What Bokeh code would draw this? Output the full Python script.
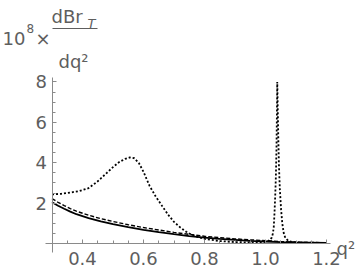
from bokeh.plotting import figure
from bokeh.models import Range1d, FixedTicker, Label
from bokeh.embed import file_html
from bokeh.resources import INLINE

# ---------------- data ----------------
q_solid = [0.30, 0.32, 0.34, 0.36, 0.38, 0.42, 0.46, 0.50, 0.55, 0.60, 0.65, 0.70,
           0.75, 0.80, 0.85, 0.90, 0.95, 1.00, 1.05, 1.10, 1.15, 1.20]
br_solid = [2.04, 1.87, 1.72, 1.58, 1.45, 1.26, 1.10, 0.96, 0.81, 0.68, 0.56, 0.46,
            0.37, 0.29, 0.23, 0.18, 0.13, 0.10, 0.07, 0.05, 0.04, 0.03]

q_dashed = [0.30, 0.32, 0.34, 0.36, 0.38, 0.42, 0.46, 0.50, 0.55, 0.60, 0.65, 0.70,
            0.75, 0.80, 0.85, 0.90, 0.95, 1.00, 1.05, 1.10, 1.15, 1.20]
br_dashed = [2.22, 2.04, 1.88, 1.73, 1.60, 1.40, 1.23, 1.09, 0.93, 0.79, 0.67, 0.55,
             0.45, 0.36, 0.29, 0.23, 0.18, 0.14, 0.10, 0.07, 0.05, 0.04]

q_dotted = [0.30, 0.33, 0.36, 0.39, 0.42, 0.45, 0.48, 0.50, 0.52, 0.54, 0.555, 0.57,
            0.585, 0.60, 0.62, 0.64, 0.66, 0.68, 0.70, 0.72, 0.74, 0.76, 0.78, 0.80,
            0.85, 0.90, 0.95, 0.99, 1.005, 1.015, 1.020, 1.024, 1.027, 1.0295, 1.032,
            1.034, 1.036, 1.037, 1.038, 1.0385, 1.039, 1.040, 1.042, 1.044, 1.047,
            1.051, 1.055, 1.060, 1.065, 1.075, 1.09, 1.12, 1.16, 1.20]
br_dotted = [2.43, 2.46, 2.52, 2.60, 2.74, 3.08, 3.50, 3.78, 4.03, 4.19, 4.26, 4.22,
             3.98, 3.55, 2.85, 2.33, 1.88, 1.44, 1.07, 0.80, 0.58, 0.42, 0.31, 0.23,
             0.12, 0.07, 0.05, 0.06, 0.09, 0.18, 0.28, 0.48, 0.80, 1.50, 2.40,
             3.30, 4.70, 5.90, 7.20, 8.00, 7.70, 6.80, 5.20, 3.90, 2.70,
             1.70, 1.00, 0.50, 0.28, 0.13, 0.07, 0.04, 0.03, 0.02]

x_ticks = [0.4, 0.6, 0.8, 1.0, 1.2]
x_tick_labels = ["0.4", "0.6", "0.8", "1.0", "1.2"]
x_minor = [0.35, 0.45, 0.5, 0.55, 0.65, 0.7, 0.75, 0.85, 0.9, 0.95, 1.05, 1.1, 1.15]
y_ticks = [2, 4, 6, 8]
y_tick_labels = ["2", "4", "6", "8"]
y_minor = [0.5, 1, 1.5, 2.5, 3, 3.5, 4.5, 5, 5.5, 6.5, 7, 7.5]

# ---------------- layout ----------------
W, H = 360, 274
XPX = 305.0          # pixels per unit of q^2
YPX = 20.2           # pixels per unit of y
X_ORIGIN = 0.3
x0 = X_ORIGIN - 51.5 / XPX
x1 = x0 + W / XPX
y1 = 243.0 / YPX
y0 = y1 - H / YPX

def dx(px):
    return x0 + px / XPX

def dy(py):
    return y1 - py / YPX

FONT = "DejaVu Sans"
TXT = "#5e5e5e"
AX = "#8a8a8a"

p = figure(width=W, height=H, x_range=Range1d(x0, x1), y_range=Range1d(y0, y1),
           output_backend="svg", toolbar_location=None, min_border=0)
p.outline_line_color = None
p.grid.visible = False
p.background_fill_color = "white"
p.border_fill_color = "white"

# axes crossing like the original
p.xaxis.fixed_location = 0
p.yaxis.fixed_location = X_ORIGIN
p.xaxis.bounds = (dx(45), dx(330))
p.yaxis.bounds = (dy(252), 8.2)
p.xaxis.ticker = FixedTicker(ticks=x_ticks, minor_ticks=x_minor)
p.yaxis.ticker = FixedTicker(ticks=y_ticks, minor_ticks=y_minor)
p.xaxis.major_label_overrides = dict(zip(x_ticks, x_tick_labels))
p.yaxis.major_label_overrides = dict(zip(y_ticks, y_tick_labels))
for ax in (p.xaxis, p.yaxis):
    ax.axis_line_color = AX
    ax.axis_line_width = 1
    ax.major_tick_line_color = AX
    ax.minor_tick_line_color = AX
    ax.major_tick_in = 4
    ax.major_tick_out = 0
    ax.minor_tick_in = 3
    ax.minor_tick_out = 0
    ax.major_label_text_font = FONT
    ax.major_label_text_font_size = "18px"
    ax.major_label_text_color = TXT
p.xaxis.major_label_standoff = 8
p.yaxis.major_label_standoff = 5

# curves
p.line(q_dotted, br_dotted, line_color="black", line_width=1.8, line_dash="2 2")
p.line(q_dashed, br_dashed, line_color="black", line_width=1.4, line_dash="4 2")
p.line(q_solid, br_solid, line_color="black", line_width=1.8)

# axis labels (window pixel positions)
def lab(text, px, py, size, style="normal"):
    p.add_layout(Label(x=dx(px), y=dy(py), text=text, text_font=FONT,
                       text_font_size=size, text_color=TXT, text_font_style=style,
                       text_baseline="alphabetic", text_align="left"))

lab("10", 2, 38, "18px")
lab("8", 26, 28, "12px")
lab("\u00d7", 35, 38, "18px")
lab("dBr", 51, 16, "18px")
lab("T", 87, 23, "13px", "italic")
lab("dq\u00b2", 58, 61, "18px")
p.segment(x0=[dx(52)], y0=[dy(28)], x1=[dx(97)], y1=[dy(28)], line_color=TXT, line_width=1)
lab("q\u00b2", 336, 247.5, "18px")

open("out.html", "w").write(file_html(p, INLINE))
